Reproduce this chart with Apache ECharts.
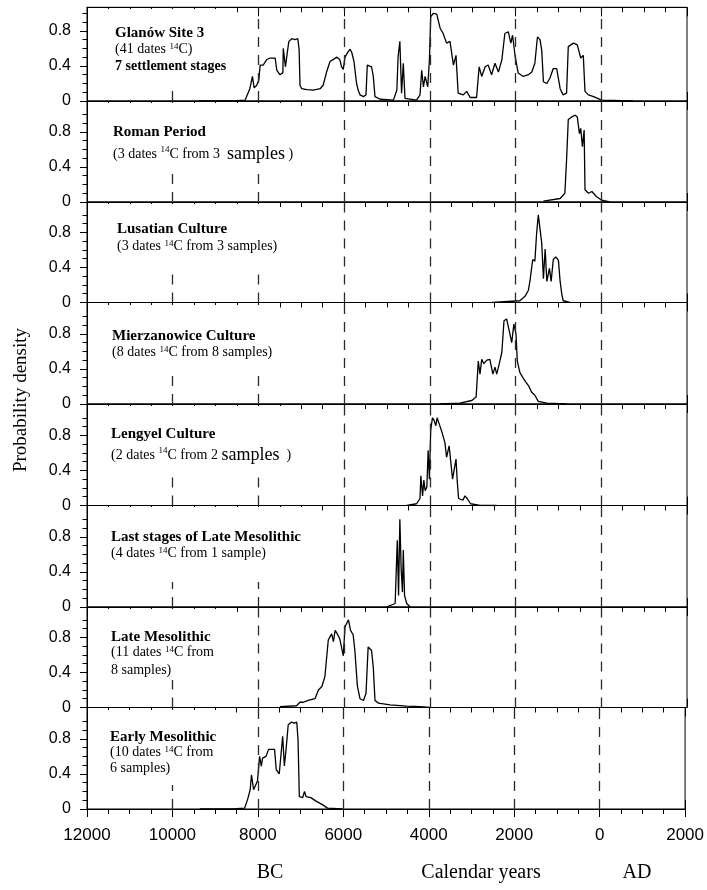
<!DOCTYPE html>
<html>
<head>
<meta charset="utf-8">
<script src="https://cdn.jsdelivr.net/npm/echarts@6/dist/echarts.min.js"></script>
<style>
  html, body { margin: 0; padding: 0; background: #fff; }
  #chart { width: 707px; height: 890px; }
</style>
</head>
<body>
<div id="chart"></div>
<script>
// Summed calibrated 14C probability densities, [calendar year (BC negative), density]
const glanowSite3 = [
  [-9400, 0], [-8600, 0.002], [-8310, 0.01], [-8200, 0.14], [-8140, 0.28], [-8100, 0.15], [-8040, 0.18],
  [-7990, 0.24], [-7960, 0.41], [-7890, 0.41], [-7810, 0.47], [-7730, 0.49], [-7610, 0.49],
  [-7570, 0.35], [-7500, 0.30], [-7430, 0.32], [-7420, 0.60], [-7370, 0.39], [-7330, 0.54],
  [-7290, 0.68], [-7220, 0.71], [-7150, 0.70], [-7080, 0.71], [-7050, 0.58], [-7030, 0.18],
  [-6990, 0.14], [-6870, 0.13], [-6720, 0.125], [-6560, 0.14], [-6490, 0.18], [-6410, 0.33],
  [-6330, 0.45], [-6250, 0.475], [-6170, 0.50], [-6100, 0.47], [-6060, 0.39], [-6020, 0.36],
  [-5980, 0.50], [-5910, 0.56], [-5860, 0.59], [-5820, 0.55], [-5770, 0.45], [-5710, 0.20],
  [-5670, 0.12], [-5630, 0.07], [-5550, 0.05], [-5490, 0.07], [-5460, 0.41], [-5420, 0.43],
  [-5360, 0.39], [-5320, 0.28], [-5280, 0.05], [-5160, 0.02], [-4850, 0.01], [-4770, 0.125],
  [-4740, 0.51], [-4700, 0.68], [-4660, 0.09], [-4620, 0.43], [-4580, 0.03], [-4310, 0.01],
  [-4230, 0.07], [-4190, 0.35], [-4150, 0.16], [-4110, 0.28], [-4050, 0.16], [-4010, 0.47],
  [-3980, 0.96], [-3920, 1.0], [-3840, 0.99], [-3760, 0.83], [-3690, 0.77], [-3610, 0.66],
  [-3530, 0.68], [-3450, 0.41], [-3390, 0.52], [-3340, 0.09], [-3220, 0.07], [-3140, 0.11],
  [-3060, 0.04], [-2910, 0.04], [-2850, 0.39], [-2790, 0.28], [-2710, 0.39], [-2640, 0.41],
  [-2560, 0.30], [-2480, 0.43], [-2400, 0.33], [-2320, 0.47], [-2250, 0.77], [-2170, 0.79],
  [-2110, 0.66], [-2070, 0.75], [-2010, 0.51], [-1940, 0.32], [-1820, 0.28], [-1700, 0.30],
  [-1620, 0.33], [-1550, 0.43], [-1490, 0.73], [-1430, 0.70], [-1390, 0.58], [-1350, 0.22],
  [-1270, 0.20], [-1200, 0.26], [-1120, 0.37], [-1040, 0.37], [-960, 0.14], [-890, 0.07],
  [-810, 0.09], [-770, 0.62], [-650, 0.66], [-560, 0.64], [-480, 0.49], [-420, 0.52],
  [-380, 0.11], [-300, 0.07], [-180, 0.05], [10, 0.01], [740, 0]
];
const romanPeriod = [
  [-1350, 0.01], [-960, 0.04], [-850, 0.10], [-810, 0.48], [-770, 0.94], [-690, 0.97],
  [-610, 0.99], [-560, 0.97], [-510, 0.78], [-480, 0.84], [-440, 0.63], [-400, 0.82],
  [-380, 0.14], [-300, 0.10], [-220, 0.12], [-110, 0.06], [10, 0.02], [200, 0]
];
const lusatianCulture = [
  [-2550, 0], [-1900, 0.02], [-1780, 0.07], [-1700, 0.14], [-1660, 0.26], [-1600, 0.49],
  [-1550, 0.47], [-1510, 0.78], [-1470, 1.0], [-1430, 0.99], [-1390, 0.68], [-1350, 0.27],
  [-1310, 0.61], [-1270, 0.24], [-1210, 0.39], [-1170, 0.24], [-1120, 0.49], [-1060, 0.52],
  [-1000, 0.48], [-960, 0.24], [-920, 0.09], [-890, 0.02], [-730, 0]
];
const mierzanowiceCulture = [
  [-3760, 0], [-3300, 0.01], [-3020, 0.04], [-2920, 0.08], [-2870, 0.49], [-2830, 0.34],
  [-2790, 0.51], [-2740, 0.46], [-2670, 0.50], [-2600, 0.51], [-2530, 0.34], [-2480, 0.42],
  [-2440, 0.34], [-2380, 0.46], [-2320, 0.59], [-2270, 0.95], [-2210, 0.97], [-2150, 0.84],
  [-2090, 0.70], [-2040, 0.91], [-1990, 0.80], [-1960, 0.49], [-1900, 0.36], [-1830, 0.30],
  [-1760, 0.25], [-1700, 0.21], [-1620, 0.13], [-1550, 0.10], [-1470, 0.03], [-1270, 0.01],
  [-810, 0]
];
const lengyelCulture = [
  [-4540, 0], [-4310, 0.02], [-4230, 0.08], [-4210, 0.34], [-4170, 0.11], [-4140, 0.29],
  [-4110, 0.17], [-4070, 0.21], [-4040, 0.63], [-4010, 0.30], [-3980, 0.86], [-3940, 1.0],
  [-3900, 0.97], [-3860, 0.91], [-3830, 1.0], [-3790, 0.98], [-3720, 0.84], [-3650, 0.72],
  [-3610, 0.55], [-3550, 0.68], [-3470, 0.30], [-3390, 0.53], [-3360, 0.27], [-3330, 0.08],
  [-3230, 0.06], [-3180, 0.11], [-3130, 0.08], [-3050, 0.02], [-2830, 0], [-2440, 0]
];
const lastLateMesolithic = [
  [-5010, 0], [-4810, 0.04], [-4760, 0.76], [-4730, 0.13], [-4700, 1.0], [-4670, 0.44],
  [-4640, 0.17], [-4620, 0.65], [-4590, 0.13], [-4540, 0.04], [-4460, 0]
];
const lateMesolithic = [
  [-7500, 0.01], [-7110, 0.02], [-7030, 0.06], [-6950, 0.06], [-6840, 0.08], [-6680, 0.10],
  [-6600, 0.20], [-6520, 0.24], [-6450, 0.35], [-6370, 0.77], [-6290, 0.84], [-6250, 0.75],
  [-6210, 0.88], [-6160, 0.84], [-6100, 0.78], [-6020, 0.59], [-5980, 0.92], [-5900, 1.0],
  [-5850, 0.88], [-5790, 0.83], [-5750, 0.65], [-5690, 0.24], [-5630, 0.10], [-5550, 0.08],
  [-5490, 0.16], [-5440, 0.69], [-5360, 0.65], [-5320, 0.46], [-5280, 0.08], [-5200, 0.05],
  [-4930, 0.03], [-4540, 0.015], [-4230, 0.01], [-4000, 0]
];
const earlyMesolithic = [
  [-9360, 0], [-8600, 0.002], [-8310, 0.01], [-8240, 0.11], [-8180, 0.22], [-8150, 0.39],
  [-8100, 0.22], [-8060, 0.24], [-8010, 0.32], [-7960, 0.60], [-7920, 0.49], [-7890, 0.58],
  [-7810, 0.60], [-7750, 0.68], [-7610, 0.68], [-7570, 0.45], [-7500, 0.40], [-7460, 0.41],
  [-7420, 0.83], [-7380, 0.49], [-7340, 0.68], [-7290, 0.96], [-7220, 0.99], [-7150, 0.98],
  [-7090, 0.99], [-7060, 0.79], [-7030, 0.14], [-6950, 0.13], [-6910, 0.20], [-6870, 0.14],
  [-6760, 0.13], [-6640, 0.09], [-6490, 0.05], [-6370, 0.01], [-6020, 0]
];

const panelSeries = [glanowSite3, romanPeriod, lusatianCulture, mierzanowiceCulture,
  lengyelCulture, lastLateMesolithic, lateMesolithic, earlyMesolithic];

const panelTitles = ['Glanów Site 3', 'Roman Period', 'Lusatian Culture', 'Mierzanowice Culture',
  'Lengyel Culture', 'Last stages of Late Mesolithic', 'Late Mesolithic', 'Early Mesolithic'];

const panelNotes = [
  ['(41 dates {sup|14}C)', '{bold|7 settlement stages}'],
  ['(3 dates {sup|14}C from 3  {big|samples} )'],
  ['(3 dates {sup|14}C from 3 samples)'],
  ['(8 dates {sup|14}C from 8 samples)'],
  ['(2 dates {sup|14}C from 2 {big|samples}  )'],
  ['(4 dates {sup|14}C from 1 sample)'],
  ['(11 dates {sup|14}C from', '8 samples)'],
  ['(10 dates {sup|14}C from', '6 samples)']
];

const yearTicks = [-12000, -10000, -8000, -6000, -4000, -2000, 0, 2000];
const guideYears = [-10000, -8000, -6000, -4000, -2000, 0];
const densityLabels = [0, 0.4, 0.8];
const densityMinor = [0.1, 0.2, 0.3, 0.5, 0.6, 0.7, 0.9, 1.0];
const axisTitle = 'Probability density';
const bottomWords = ['BC', 'Calendar years', 'AD'];

// ---- layout ----
const plotLeft = 87, plotWidth = 600;
const unitPx = 87.7;                       // pixels per 1.0 of density
const zeroY = [101, 202, 302.5, 404, 505.5, 607, 707.5, 809];
const topY = [7.3].concat(zeroY.slice(0, 7));
const textLeft = [115, 113, 117, 112, 111, 111, 111, 110];
const lineY = [[33, 49, 66], [132, 154], [229, 246], [336, 352], [434, 455], [537, 553], [637, 652, 670], [737, 752, 768]];
const maskBox = [[104, 9, 124, 81], [104, 103, 194, 71], [104, 204, 174, 67], [104, 305, 168, 71],
  [104, 406, 192, 64], [104, 507, 206, 75], [104, 609, 112, 71], [104, 710, 120, 75]];

const serif = '"Liberation Serif", "Times New Roman", serif';
const sans = '"Liberation Sans", Arial, sans-serif';

const grids = [], xAxes = [], yAxes = [], series = [], graphics = [];
const black = { color: '#000', width: 1 };

for (let i = 0; i < 8; i++) {
  const h = zeroY[i] - topY[i];
  const yMax = h / unitPx;
  grids.push({ left: plotLeft, width: plotWidth, top: topY[i], height: h,
    show: true, borderColor: '#000', borderWidth: 1, backgroundColor: 'transparent' });

  const base = { gridIndex: i, type: 'value', min: -12000, max: 2000, interval: 2000,
    splitLine: { show: false } };
  const bottomIdx = xAxes.length;
  xAxes.push(Object.assign({}, base, {
    position: 'bottom',
    axisLine: { show: true, onZero: false, lineStyle: black },
    axisTick: { show: true, inside: true, length: 9, lineStyle: black },
    minorTick: { show: false },
    axisLabel: { show: false }
  }));
  xAxes.push(Object.assign({}, base, {
    position: 'top',
    axisLine: { show: true, onZero: false, lineStyle: black },
    axisTick: { show: true, inside: true, length: 9, lineStyle: black },
    minorTick: { show: true, splitNumber: 4, length: 5, lineStyle: black },
    axisLabel: { show: false }
  }));
  if (i === 7) {
    xAxes.push(Object.assign({}, base, {
      position: 'bottom',
      axisLine: { show: false, onZero: false },
      axisTick: { show: true, inside: false, length: 8, lineStyle: black },
      minorTick: { show: true, splitNumber: 4, length: 5, lineStyle: black },
      axisLabel: { show: true, margin: 18, color: '#000', fontSize: 17, fontFamily: sans,
        formatter: v => String(Math.abs(v)) }
    }));
  }

  const yIdx = yAxes.length;
  yAxes.push({ gridIndex: i, type: 'value', min: 0, max: yMax, position: 'left',
    splitLine: { show: false },
    axisLine: { show: true, onZero: false, lineStyle: black },
    axisTick: { show: true, length: 7, customValues: densityLabels, lineStyle: black },
    axisLabel: { show: true, customValues: densityLabels, margin: 16, color: '#000',
      fontSize: 16, fontFamily: sans, formatter: v => String(v) } });
  yAxes.push({ gridIndex: i, type: 'value', min: 0, max: yMax, position: 'left',
    splitLine: { show: false }, axisLine: { show: false, onZero: false },
    axisTick: { show: true, length: 4.5, customValues: densityMinor, lineStyle: black },
    axisLabel: { show: false } });

  series.push({
    type: 'line', name: panelTitles[i], xAxisIndex: bottomIdx, yAxisIndex: yIdx,
    data: panelSeries[i], showSymbol: false, symbol: 'none', smooth: false, z: 3,
    lineStyle: { color: '#000', width: 1.3 },
    markLine: {
      silent: true, symbol: 'none', animation: false, label: { show: false },
      lineStyle: { color: '#2a2a2a', width: 1.3, type: [10, 8] },
      data: guideYears.map(v => ({ xAxis: v }))
    }
  });

  // white box behind the panel caption
  const b = maskBox[i];
  graphics.push({ type: 'rect', z: 50, silent: true,
    shape: { x: b[0], y: b[1], width: b[2], height: b[3] }, style: { fill: '#fff' } });

  const lines = [{ text: panelTitles[i], bold: true }].concat(panelNotes[i].map(t => ({ text: t, bold: false })));
  lines.forEach((ln, k) => {
    graphics.push({ type: 'text', z: 60, silent: true, x: textLeft[i], y: lineY[i][k],
      style: { text: ln.text, fill: '#000', fontFamily: serif,
        fontSize: ln.bold ? 15 : 14, fontWeight: ln.bold ? 'bold' : 'normal',
        align: 'left', verticalAlign: 'middle',
        rich: {
          sup: { fontSize: 9, fontFamily: serif, verticalAlign: 'top', fill: '#000' },
          big: { fontSize: 18, fontFamily: serif, fill: '#000' },
          bold: { fontSize: 14, fontWeight: 'bold', fontFamily: serif, fill: '#000' }
        } } });
  });
}

graphics.push({ type: 'text', z: 60, silent: true, x: 21, y: 400, rotation: Math.PI / 2,
  style: { text: axisTitle, fontFamily: serif, fontSize: 19, fill: '#000',
    align: 'center', verticalAlign: 'middle' } });
const bottomX = [270, 481, 637];
bottomWords.forEach((w, k) => {
  graphics.push({ type: 'text', z: 60, silent: true, x: bottomX[k], y: 873,
    style: { text: w, fontFamily: serif, fontSize: 20, fill: '#000',
      align: 'center', verticalAlign: 'middle' } });
});

const chart = echarts.init(document.getElementById('chart'), null, { renderer: 'canvas' });
chart.setOption({
  animation: false,
  backgroundColor: '#fff',
  grid: grids,
  xAxis: xAxes,
  yAxis: yAxes,
  series: series,
  graphic: graphics
});
</script>
</body>
</html>
